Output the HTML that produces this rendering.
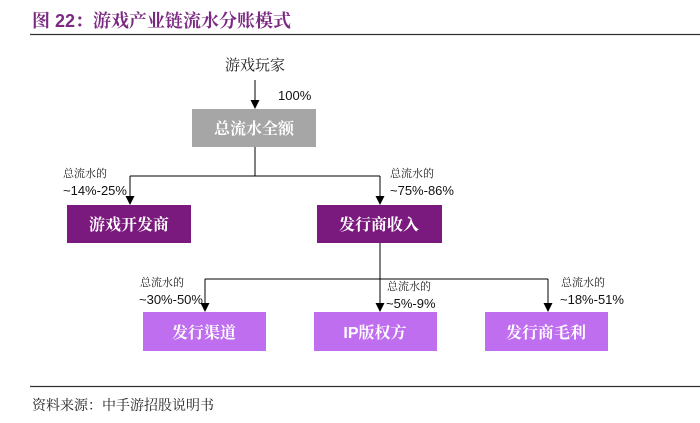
<!DOCTYPE html>
<html><head><meta charset="utf-8"><style>
html,body{margin:0;padding:0;background:#fff;}
svg{display:block;}
text{font-family:"Liberation Sans","Noto Serif CJK SC","Noto Sans CJK SC",sans-serif;}
.cj{font-family:"Noto Serif CJK SC","Noto Sans CJK SC",serif;}
</style></head><body>
<svg width="700" height="423" viewBox="0 0 700 423" xmlns="http://www.w3.org/2000/svg">
<text x="32" y="27" font-size="18" font-weight="bold" fill="#7b2a82"><tspan class="cj">图</tspan> 22<tspan class="cj">：游戏产业链流水分账模式</tspan></text>
<line x1="30" y1="34.5" x2="700" y2="34.5" stroke="#333" stroke-width="1.2"/>
<text x="255" y="70" font-size="15" text-anchor="middle" class="cj" fill="#222">游戏玩家</text>
<line x1="255" y1="80" x2="255" y2="102" stroke="#000"/>
<polygon points="250.5,100 259.5,100 255,109" fill="#000"/>
<text x="278" y="100" font-size="13" fill="#111">100%</text>
<rect x="192" y="109" width="124" height="38" fill="#a6a6a6"/>
<text x="254" y="134" font-size="16" font-weight="bold" text-anchor="middle" class="cj" fill="#fff">总流水全额</text>
<path d="M255,147 V176 M130,176 H380 M130,176 V198 M380,176 V198" stroke="#000" fill="none"/>
<polygon points="125.5,196 134.5,196 130,205" fill="#000"/>
<polygon points="375.5,196 384.5,196 380,205" fill="#000"/>
<text x="63" y="177" font-size="11" class="cj" fill="#222">总流水的</text>
<text x="63" y="195" font-size="13" fill="#111">~14%-25%</text>
<text x="390" y="177" font-size="11" class="cj" fill="#222">总流水的</text>
<text x="390" y="195" font-size="13" fill="#111">~75%-86%</text>
<rect x="67" y="205" width="124" height="38" fill="#7b1a7e"/>
<text x="129" y="230" font-size="16" font-weight="bold" text-anchor="middle" class="cj" fill="#fff">游戏开发商</text>
<rect x="317" y="205" width="125" height="38" fill="#7b1a7e"/>
<text x="379" y="230" font-size="16" font-weight="bold" text-anchor="middle" class="cj" fill="#fff">发行商收入</text>
<path d="M380,243 V305 M205,279 H548 M205,279 V305 M548,279 V305" stroke="#000" fill="none"/>
<polygon points="200.5,303 209.5,303 205,312" fill="#000"/>
<polygon points="375.5,303 384.5,303 380,312" fill="#000"/>
<polygon points="543.5,303 552.5,303 548,312" fill="#000"/>
<text x="140" y="286" font-size="11" class="cj" fill="#222">总流水的</text>
<text x="139" y="304" font-size="13" fill="#111">~30%-50%</text>
<text x="387" y="290" font-size="11" class="cj" fill="#222">总流水的</text>
<text x="386" y="308" font-size="13" fill="#111">~5%-9%</text>
<text x="561" y="286" font-size="11" class="cj" fill="#222">总流水的</text>
<text x="560" y="304" font-size="13" fill="#111">~18%-51%</text>
<rect x="143" y="312" width="123" height="39" fill="#bf6ef0"/>
<text x="204" y="338" font-size="16" font-weight="bold" text-anchor="middle" class="cj" fill="#fff">发行渠道</text>
<rect x="314" y="312" width="123" height="39" fill="#bf6ef0"/>
<text x="375" y="338" font-size="16" font-weight="bold" text-anchor="middle" fill="#fff">IP<tspan class="cj">版权方</tspan></text>
<rect x="485" y="312" width="123" height="39" fill="#bf6ef0"/>
<text x="546" y="338" font-size="16" font-weight="bold" text-anchor="middle" class="cj" fill="#fff">发行商毛利</text>
<line x1="30" y1="386.5" x2="700" y2="386.5" stroke="#333" stroke-width="1.2"/>
<text x="32" y="410" font-size="14" class="cj" fill="#222">资料来源：中手游招股说明书</text>
</svg>
</body></html>
